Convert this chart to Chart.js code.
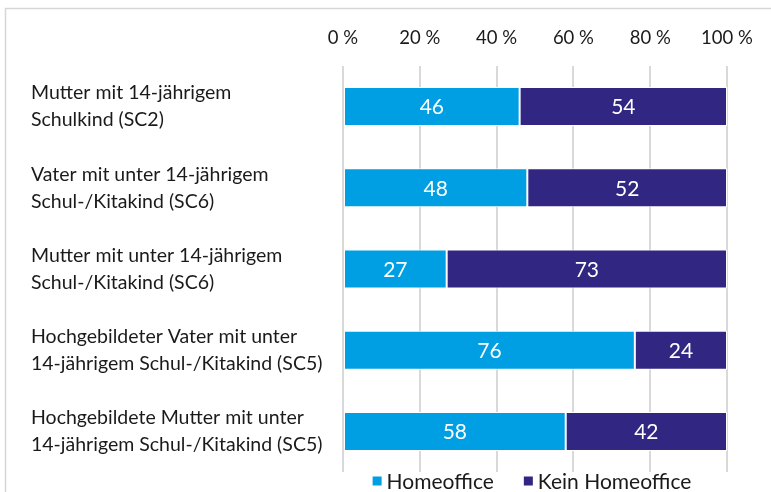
<!DOCTYPE html>
<html><head><meta charset="utf-8">
<script src="https://cdn.jsdelivr.net/npm/chart.js@4"></script>
<style>html,body{margin:0;padding:0;background:#fff}#wrap{width:771px;height:492px;position:relative}</style>
</head><body><div id="wrap"><canvas id="c" width="771" height="492"></canvas></div>
<script>
const categories = [
  ["Mutter mit 14-jährigem", "Schulkind (SC2)"],
  ["Vater mit unter 14-jährigem", "Schul-/Kitakind (SC6)"],
  ["Mutter mit unter 14-jährigem", "Schul-/Kitakind (SC6)"],
  ["Hochgebildeter Vater mit unter", "14-jährigem Schul-/Kitakind (SC5)"],
  ["Hochgebildete Mutter mit unter", "14-jährigem Schul-/Kitakind (SC5)"]
];
const seriesNames = ["Homeoffice", "Kein Homeoffice"];
const homeoffice = [46, 48, 27, 76, 58];
const keinHomeoffice = [54, 52, 73, 24, 42];
const tickSuffix = " %";

const FONT = "Lato";
const colors = ["#009FE3", "#312783"];

const borderPlugin = {
  id: 'frame',
  beforeDraw(chart) {
    const ctx = chart.ctx;
    ctx.save();
    ctx.strokeStyle = '#d6d6d6';
    ctx.lineWidth = 1.5;
    ctx.beginPath();
    ctx.moveTo(5.5, 492); ctx.lineTo(5.5, 8.5); ctx.lineTo(771, 8.5);
    ctx.stroke();
    ctx.restore();
  }
};

const valueLabels = {
  id: 'valueLabels',
  afterDatasetsDraw(chart) {
    const ctx = chart.ctx;
    ctx.save();
    ctx.fillStyle = '#fff';
    ctx.font = '21px ' + FONT;
    ctx.textAlign = 'center';
    ctx.textBaseline = 'middle';
    chart.data.datasets.forEach((ds, di) => {
      chart.getDatasetMeta(di).data.forEach((el, i) => {
        const p = el.getCenterPoint();
        ctx.fillText(String(ds.data[i]), p.x, p.y + 1);
      });
    });
    ctx.restore();
  }
};

const customLegend = {
  id: 'customLegend',
  afterDraw(chart) {
    const ctx = chart.ctx;
    ctx.save();
    ctx.font = '21px ' + FONT;
    ctx.textBaseline = 'middle';
    const box = 9, gap = 5, spacing = 30;
    const items = chart.data.datasets.map(ds => ({text: ds.label, color: ds.backgroundColor, w: ctx.measureText(ds.label).width}));
    let total = 0;
    items.forEach((it, i) => { total += box + gap + it.w + (i < items.length - 1 ? spacing : 0); });
    const ca = chart.chartArea;
    let x = (ca.left + ca.right) / 2 - 3 - total / 2;
    const y = 481;
    items.forEach(it => {
      ctx.fillStyle = it.color;
      ctx.fillRect(x, y - box / 2, box, box);
      x += box + gap;
      ctx.fillStyle = '#1a1a1a';
      ctx.textAlign = 'left';
      ctx.fillText(it.text, x, y + 1);
      x += it.w + spacing;
    });
    ctx.restore();
  }
};

new Chart(document.getElementById('c'), {
  type: 'bar',
  data: {
    labels: categories,
    datasets: [
      {label: seriesNames[0], data: homeoffice, backgroundColor: colors[0], borderColor: '#ffffff', borderWidth: 1, borderSkipped: false, categoryPercentage: 0.96, barPercentage: 0.5},
      {label: seriesNames[1], data: keinHomeoffice, backgroundColor: colors[1], borderColor: '#ffffff', borderWidth: 1, borderSkipped: false, categoryPercentage: 0.96, barPercentage: 0.5}
    ]
  },
  options: {
    indexAxis: 'y',
    responsive: false,
    animation: false,
    layout: {padding: {left: 31, right: 44, top: 0, bottom: 20}},
    plugins: {legend: {display: false}, tooltip: {enabled: false}},
    scales: {
      x: {
        position: 'top', stacked: true, min: 0, max: 100,
        afterFit(s) { s.height = 66; s.paddingLeft = 0; s.paddingRight = 0; },
        grid: {color: '#d9d9d9', lineWidth: 2, drawTicks: false},
        border: {display: false},
        ticks: {stepSize: 20, padding: 17, color: '#1a1a1a', font: {family: FONT, size: 18.5}, callback: v => v + tickSuffix}
      },
      y: {
        stacked: true,
        afterFit(s) { s.width = 312; s.paddingTop = 0; s.paddingBottom = 0; },
        grid: {display: false, drawTicks: false},
        border: {display: false},
        ticks: {autoSkip: false, crossAlign: 'far', color: '#1a1a1a', font: {family: FONT, size: 19.5, lineHeight: 1.38}}
      }
    }
  },
  plugins: [borderPlugin, valueLabels, customLegend]
});
</script>
</body></html>
